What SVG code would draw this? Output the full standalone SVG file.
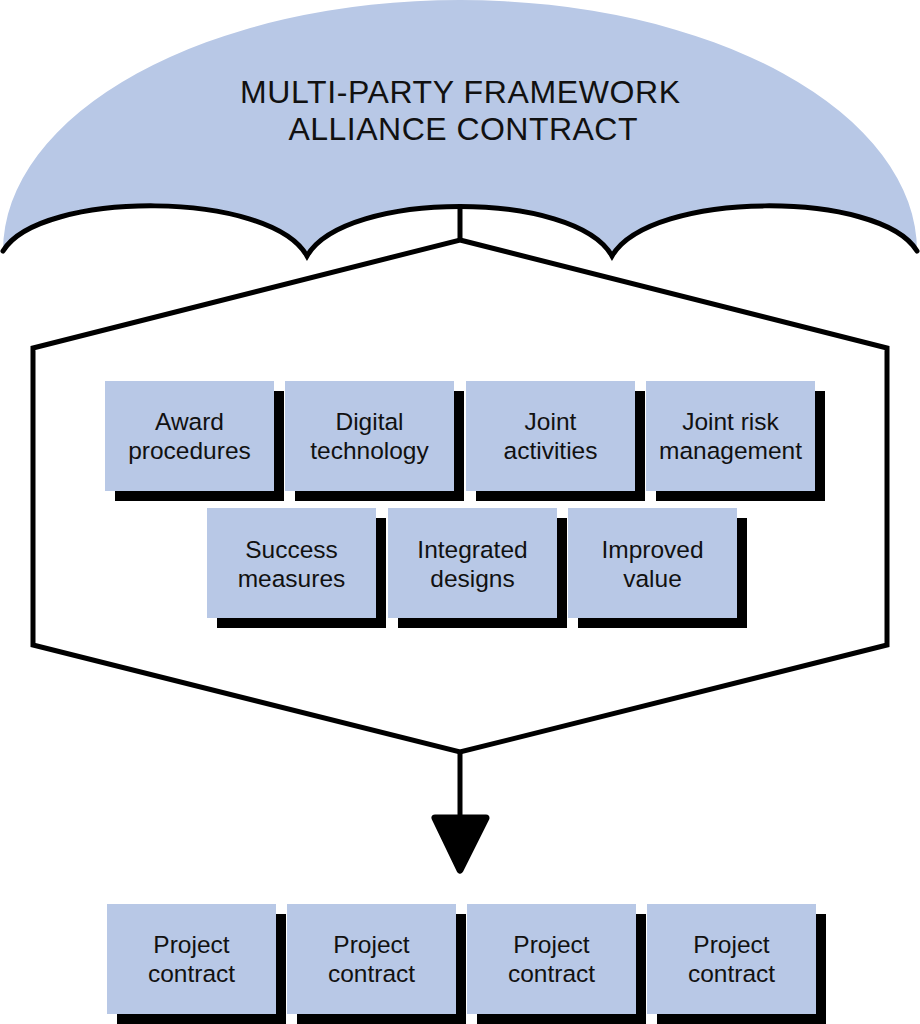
<svg xmlns="http://www.w3.org/2000/svg" width="920" height="1024" viewBox="0 0 920 1024">
<style>
.box{fill:#b8c8e6}
.shd{fill:#000}
.lbl{font-family:"Liberation Sans",Arial,sans-serif;font-size:24.5px;fill:#111;text-anchor:middle}
.title{font-family:"Liberation Sans",Arial,sans-serif;font-size:32px;fill:#111;text-anchor:middle}
.ln{fill:none;stroke:#000;stroke-width:5;stroke-linejoin:miter}
</style>
<rect width="920" height="1024" fill="#fff"/>
<g id="umbrella">
<path d="M3,251 A457,251 0 0 1 917,251 C880,190 650,190 612,256 C575,190 345,190 307,256 C270,190 40,190 3,251 Z" fill="#b8c8e6"/>
<path class="ln" d="M3,251 C40,190 270,190 307,256 C345,190 575,190 612,256 C650,190 880,190 917,251" stroke-linecap="round"/>
<text class="title" x="460" y="103" textLength="440" lengthAdjust="spacing">MULTI-PARTY FRAMEWORK</text>
<text class="title" x="463" y="139.5" textLength="349" lengthAdjust="spacing">ALLIANCE CONTRACT</text>
</g>
<g id="connectors">
<line class="ln" x1="460" y1="205" x2="460" y2="241"/>
<polygon class="ln" points="460,240 887,348 887,645 460,752 33,645 33,348"/>
<line class="ln" x1="460" y1="752" x2="460" y2="830"/>
<polygon points="435,818 486,818 460,870" fill="#000" stroke="#000" stroke-width="7" stroke-linejoin="round"/>
</g>
<g id="n1"><rect class="shd" x="115" y="391" width="169" height="110"/><rect class="box" x="105" y="381" width="169" height="110"/><text class="lbl" x="189.5" y="430">Award</text><text class="lbl" x="189.5" y="459">procedures</text></g>
<g id="n2"><rect class="shd" x="295" y="391" width="169" height="110"/><rect class="box" x="285" y="381" width="169" height="110"/><text class="lbl" x="369.5" y="430">Digital</text><text class="lbl" x="369.5" y="459">technology</text></g>
<g id="n3"><rect class="shd" x="476" y="391" width="169" height="110"/><rect class="box" x="466" y="381" width="169" height="110"/><text class="lbl" x="550.5" y="430">Joint</text><text class="lbl" x="550.5" y="459">activities</text></g>
<g id="n4"><rect class="shd" x="656" y="391" width="169" height="110"/><rect class="box" x="646" y="381" width="169" height="110"/><text class="lbl" x="730.5" y="430">Joint risk</text><text class="lbl" x="730.5" y="459">management</text></g>
<g id="n5"><rect class="shd" x="217" y="518" width="169" height="110"/><rect class="box" x="207" y="508" width="169" height="110"/><text class="lbl" x="291.5" y="558">Success</text><text class="lbl" x="291.5" y="587">measures</text></g>
<g id="n6"><rect class="shd" x="398" y="518" width="169" height="110"/><rect class="box" x="388" y="508" width="169" height="110"/><text class="lbl" x="472.5" y="558">Integrated</text><text class="lbl" x="472.5" y="587">designs</text></g>
<g id="n7"><rect class="shd" x="578" y="518" width="169" height="110"/><rect class="box" x="568" y="508" width="169" height="110"/><text class="lbl" x="652.5" y="558">Improved</text><text class="lbl" x="652.5" y="587">value</text></g>
<g id="p1"><rect class="shd" x="117" y="914" width="169" height="110"/><rect class="box" x="107" y="904" width="169" height="110"/><text class="lbl" x="191.5" y="953">Project</text><text class="lbl" x="191.5" y="982">contract</text></g>
<g id="p2"><rect class="shd" x="297" y="914" width="169" height="110"/><rect class="box" x="287" y="904" width="169" height="110"/><text class="lbl" x="371.5" y="953">Project</text><text class="lbl" x="371.5" y="982">contract</text></g>
<g id="p3"><rect class="shd" x="477" y="914" width="169" height="110"/><rect class="box" x="467" y="904" width="169" height="110"/><text class="lbl" x="551.5" y="953">Project</text><text class="lbl" x="551.5" y="982">contract</text></g>
<g id="p4"><rect class="shd" x="657" y="914" width="169" height="110"/><rect class="box" x="647" y="904" width="169" height="110"/><text class="lbl" x="731.5" y="953">Project</text><text class="lbl" x="731.5" y="982">contract</text></g>
</svg>
